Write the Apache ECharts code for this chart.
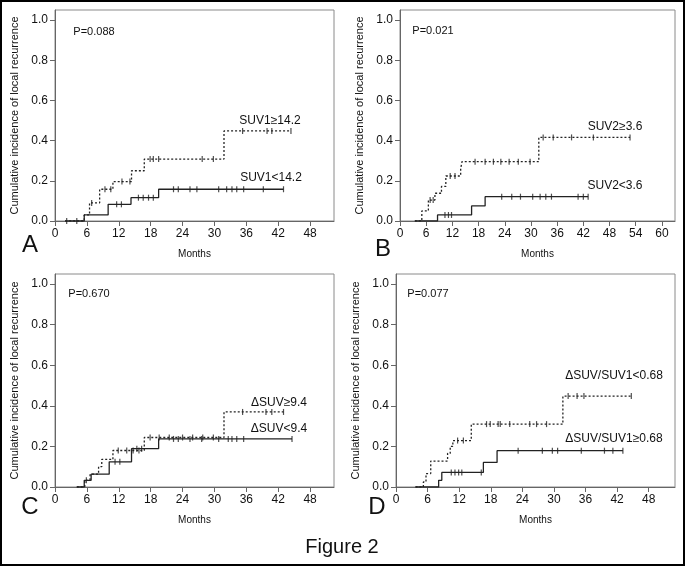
<!DOCTYPE html>
<html><head><meta charset="utf-8">
<script src="https://cdn.jsdelivr.net/npm/echarts@6/dist/echarts.min.js"></script>
<style>html,body{margin:0;padding:0;background:#fff}#c{width:685px;height:566px}</style>
</head><body><div id="c"></div><script>
// ---- tick labels ----
const xTicks48 = [0, 6, 12, 18, 24, 30, 36, 42, 48];
const xTicks60 = [0, 6, 12, 18, 24, 30, 36, 42, 48, 54, 60];
const yTicks = [0, 0.2, 0.4, 0.6, 0.8, 1.0];
const panelLetters = ['A', 'B', 'C', 'D'];
const pValues = ['P=0.088', 'P=0.021', 'P=0.670', 'P=0.077'];
const highNames = ['SUV1≥14.2', 'SUV2≥3.6', 'ΔSUV≥9.4', 'ΔSUV/SUV1<0.68'];
const lowNames = ['SUV1<14.2', 'SUV2<3.6', 'ΔSUV<9.4', 'ΔSUV/SUV1≥0.68'];

// ---- Panel A ----
const aHighTimes = [1.9, 5.5, 6.5, 8.4, 10.9, 14.4, 16.8, 31.8, 44.4];
const aHighValues = [0, 0.03, 0.09, 0.158, 0.196, 0.25, 0.308, 0.448, 0.448];
const aHighCensored = [2.2, 4.1, 6.9, 9.4, 10.5, 12.6, 14.1, 17.9, 18.5, 19.5, 27.7, 29.8, 35.3, 39.9, 40.8, 44.4];
const aLowTimes = [1.9, 5.5, 10.0, 14.3, 19.5, 43.0];
const aLowValues = [0, 0.03, 0.083, 0.116, 0.158, 0.158];
const aLowCensored = [11.6, 12.5, 15.7, 16.6, 17.6, 18.5, 22.3, 23.2, 25.4, 26.7, 30.8, 32.3, 33.3, 34.2, 35.5, 39.2, 43.0];

// ---- Panel B ----
const bHighTimes = [3.4, 5.0, 6.5, 8.0, 9.5, 10.5, 13.9, 14.2, 31.8, 52.7];
const bHighValues = [0, 0.05, 0.104, 0.138, 0.172, 0.224, 0.26, 0.295, 0.416, 0.416];
const bHighCensored = [6.9, 7.6, 11.5, 12.6, 17.2, 19.5, 21.4, 23.1, 25.0, 27.1, 29.8, 32.8, 35.1, 39.3, 44.3, 52.7];
const bLowTimes = [3.4, 8.6, 16.4, 19.5, 43.1];
const bLowValues = [0, 0.03, 0.075, 0.121, 0.121];
const bLowCensored = [10.3, 11.1, 11.8, 23.3, 25.6, 27.6, 30.4, 32.1, 33.4, 34.7, 40.8, 42.0, 43.1];

// ---- Panel C ----
const cHighTimes = [4.1, 5.6, 6.6, 8.2, 8.8, 10.9, 16.8, 31.8, 43.0];
const cHighValues = [0, 0.033, 0.063, 0.1, 0.136, 0.18, 0.244, 0.37, 0.37];
const cHighCensored = [11.9, 13.5, 14.7, 15.8, 17.9, 19.6, 21.5, 24.0, 25.9, 27.8, 29.8, 35.3, 39.7, 40.8, 43.0];
const cLowTimes = [4.1, 5.5, 6.8, 10.2, 14.4, 19.5, 44.6];
const cLowValues = [0, 0.033, 0.063, 0.124, 0.189, 0.237, 0.237];
const cLowCensored = [5.9, 11.3, 12.2, 15.4, 16.3, 22.3, 23.2, 25.4, 27.6, 30.8, 32.6, 33.3, 34.2, 35.5, 44.6];

// ---- Panel D ----
const dHighTimes = [3.7, 5.2, 5.7, 6.6, 9.8, 10.3, 10.8, 14.3, 31.7, 44.7];
const dHighValues = [0, 0.025, 0.066, 0.128, 0.166, 0.2, 0.229, 0.31, 0.448, 0.448];
const dHighCensored = [11.7, 12.8, 17.2, 17.9, 19.4, 19.8, 21.6, 25.4, 26.7, 28.6, 32.7, 34.4, 35.7, 44.7];
const dLowTimes = [3.7, 8.1, 8.7, 16.6, 19.2, 43.1];
const dLowValues = [0, 0.033, 0.072, 0.121, 0.179, 0.179];
const dLowCensored = [10.5, 11.2, 11.9, 12.5, 16.2, 23.2, 27.8, 29.7, 30.7, 35.2, 39.6, 41.2, 43.1];

const FONT = "'Liberation Sans', Arial, sans-serif";
const pair = (t, v) => t.map((x, i) => [x, v[i]]);
const stepAt = (t, v, c) => { let r = v[0]; for (let i = 0; i < t.length; i++) { if (t[i] <= c + 1e-9) r = v[i]; } return r; };
const cens = (t, v, cs) => cs.map(c => [c, stepAt(t, v, c)]);

const panels = [
  { grid: { left: 55, top: 10, width: 279, height: 211 }, xMax: 52.5, xTicks: xTicks48,
    high: [aHighTimes, aHighValues, aHighCensored], low: [aLowTimes, aLowValues, aLowCensored] },
  { grid: { left: 400, top: 10, width: 275, height: 211 }, xMax: 63, xTicks: xTicks60,
    high: [bHighTimes, bHighValues, bHighCensored], low: [bLowTimes, bLowValues, bLowCensored] },
  { grid: { left: 55, top: 274, width: 279, height: 213 }, xMax: 52.5, xTicks: xTicks48,
    high: [cHighTimes, cHighValues, cHighCensored], low: [cLowTimes, cLowValues, cLowCensored] },
  { grid: { left: 396, top: 274, width: 279, height: 213 }, xMax: 53, xTicks: xTicks48,
    high: [dHighTimes, dHighValues, dHighCensored], low: [dLowTimes, dLowValues, dLowCensored] }
];

const grids = [], xAxes = [], yAxes = [], series = [];
panels.forEach((p, i) => {
  grids.push(Object.assign({ show: true, borderColor: '#8a8a8a', borderWidth: 1, backgroundColor: 'transparent' }, p.grid));
  xAxes.push({
    type: 'value', gridIndex: i, min: 0, max: p.xMax, interval: 6,
    name: 'Months', nameLocation: 'middle', nameGap: 28,
    nameTextStyle: { fontFamily: FONT, fontSize: 10, color: '#111' },
    axisLine: { show: true, lineStyle: { color: '#666' } },
    axisTick: { show: true, length: 5, lineStyle: { color: '#666' }, customValues: p.xTicks },
    axisLabel: { fontFamily: FONT, fontSize: 12, color: '#111', margin: 7, customValues: p.xTicks },
    splitLine: { show: false }
  });
  yAxes.push({
    type: 'value', gridIndex: i, min: 0, max: 1.05, interval: 0.2,
    name: 'Cumulative incidence of local recurrence', nameLocation: 'middle', nameGap: 35,
    nameTextStyle: { fontFamily: FONT, fontSize: 11, color: '#111' },
    axisLine: { show: true, lineStyle: { color: '#666' } },
    axisTick: { show: true, length: 5, lineStyle: { color: '#666' }, customValues: yTicks },
    axisLabel: { fontFamily: FONT, fontSize: 12, color: '#111', margin: 7, customValues: yTicks,
      formatter: v => v.toFixed(1) },
    splitLine: { show: false }
  });
  const groups = [[p.high, [2, 2], highNames[i]], [p.low, 'solid', lowNames[i]]];
  groups.forEach(([g, dash, nm]) => {
    series.push({
      type: 'line', name: nm, xAxisIndex: i, yAxisIndex: i, step: 'end', showSymbol: false,
      data: pair(g[0], g[1]), silent: true, animation: false,
      lineStyle: { color: '#222', width: 1.3, type: dash }
    });
    series.push({
      type: 'scatter', name: nm + ' censored', xAxisIndex: i, yAxisIndex: i,
      data: cens(g[0], g[1], g[2]), symbol: 'rect', symbolSize: [1.2, 6], silent: true, animation: false,
      itemStyle: { color: '#222' }
    });
  });
});

// text annotations
const txt = (text, x, y, size, align) => ({
  type: 'text', x: x, y: y, silent: true,
  style: { text: text, fontFamily: FONT, fontSize: size, fill: '#111', textAlign: align || 'center', textVerticalAlign: 'middle' }
});
const pPos = [[94, 32], [433, 31], [89, 294], [428, 294]];
const highPos = [[270, 121], [615, 127], [279, 403], [614, 376]];
const lowPos = [[271, 178], [615, 186], [279, 429], [614, 439]];
const letterPos = [[30, 245], [383, 249], [30, 507], [377, 507]];
const graphics = [
  { type: 'rect', shape: { x: 1, y: 1, width: 683, height: 564 }, style: { fill: 'none', stroke: '#000', lineWidth: 2 }, silent: true }
];
for (let i = 0; i < 4; i++) {
  graphics.push(txt(pValues[i], pPos[i][0], pPos[i][1], 11));
  graphics.push(txt(highNames[i], highPos[i][0], highPos[i][1], 12));
  graphics.push(txt(lowNames[i], lowPos[i][0], lowPos[i][1], 12));
  graphics.push(txt(panelLetters[i], letterPos[i][0], letterPos[i][1], 24));
}
graphics.push(txt('Figure 2', 342, 547, 20));

const chart = echarts.init(document.getElementById('c'), null, { renderer: 'canvas' });
chart.setOption({
  backgroundColor: '#fff', animation: false,
  grid: grids, xAxis: xAxes, yAxis: yAxes, series: series, graphic: graphics
});
</script></body></html>
